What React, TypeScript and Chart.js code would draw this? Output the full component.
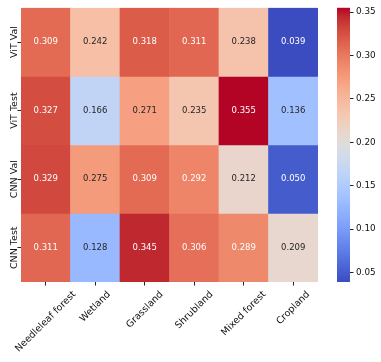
import React, { useEffect, useRef } from 'react';
import { Chart, registerables } from 'chart.js';

Chart.register(...registerables);

const columns = ['Needleleaf forest', 'Wetland', 'Grassland', 'Shrubland', 'Mixed forest', 'Cropland'];
const rows = ['ViT Val', 'ViT Test', 'CNN Val', 'CNN Test'];
const vitVal = [0.309, 0.242, 0.318, 0.311, 0.238, 0.039];
const vitTest = [0.327, 0.166, 0.271, 0.235, 0.355, 0.136];
const cnnVal = [0.329, 0.275, 0.309, 0.292, 0.212, 0.05];
const cnnTest = [0.311, 0.128, 0.345, 0.306, 0.289, 0.209];
const colorbarTicks = [0.05, 0.1, 0.15, 0.2, 0.25, 0.3, 0.35];

const series = [vitVal, vitTest, cnnVal, cnnTest];
const allValues = series.flat();
const vmin = Math.min(...allValues);
const vmax = Math.max(...allValues);

// coolwarm colormap control points (Moreland)
const COOLWARM: number[][] = [
  [59, 76, 192], [68, 90, 204], [77, 104, 215], [87, 117, 225], [98, 130, 234], [108, 142, 241],
  [119, 154, 247], [130, 165, 251], [141, 176, 254], [152, 185, 255], [163, 194, 255], [174, 201, 253],
  [184, 208, 249], [194, 213, 244], [204, 217, 238], [213, 219, 230], [221, 221, 221], [229, 216, 209],
  [236, 211, 197], [241, 204, 185], [245, 196, 173], [247, 187, 160], [247, 177, 148], [247, 166, 135],
  [244, 154, 123], [241, 141, 111], [236, 127, 99], [229, 112, 88], [222, 96, 77], [213, 80, 66],
  [203, 62, 56], [192, 40, 47], [180, 4, 38],
];

function cmapRGB(t: number): number[] {
  const c = Math.max(0, Math.min(1, t)) * (COOLWARM.length - 1);
  const i = Math.min(COOLWARM.length - 2, Math.floor(c));
  const f = c - i;
  const a = COOLWARM[i], b = COOLWARM[i + 1];
  return [0, 1, 2].map((k) => Math.round(a[k] + (b[k] - a[k]) * f));
}
const rgbStr = (c: number[]) => `rgb(${c[0]},${c[1]},${c[2]})`;
const norm = (v: number) => (v - vmin) / (vmax - vmin);

function luminance(c: number[]): number {
  const l = c.map((x) => {
    const v = x / 255;
    return v <= 0.03928 ? v / 12.92 : Math.pow((v + 0.055) / 1.055, 2.4);
  });
  return 0.2126 * l[0] + 0.7152 * l[1] + 0.0722 * l[2];
}

const FONT = "'DejaVu Sans', sans-serif";
const TICK_SIZE = 9.5;
const ANNOT_SIZE = 8.5;
const TEXT_COLOR = '#111';
const TICK_COLOR = '#222';

const heatmapPlugin = {
  id: 'heatmapExtras',
  afterDatasetsDraw(chart: any) {
    const ctx = chart.ctx;
    ctx.save();
    ctx.font = `${ANNOT_SIZE}px ${FONT}`;
    ctx.textAlign = 'center';
    ctx.textBaseline = 'middle';
    chart.data.datasets.forEach((ds: any, i: number) => {
      const meta = chart.getDatasetMeta(i);
      meta.data.forEach((el: any, j: number) => {
        const v = series[i][j];
        const col = cmapRGB(norm(v));
        ctx.fillStyle = luminance(col) > 0.408 ? 'rgb(38,38,38)' : '#ffffff';
        ctx.fillText(v.toFixed(3), el.x, (el.y + el.base) / 2);
      });
    });
    ctx.restore();
  },
  afterDraw(chart: any) {
    const ctx = chart.ctx;
    const xs = chart.scales.x;
    const ys = chart.scales.y;
    const cb = chart.scales.cb;
    const sp = chart.scales.spacer;
    ctx.save();
    ctx.font = `${TICK_SIZE}px ${FONT}`;
    ctx.fillStyle = TEXT_COLOR;
    // y labels, rotated
    rows.forEach((r, i) => {
      const py = ys.getPixelForValue(i + 0.5);
      ctx.save();
      ctx.translate(ys.right - 4.3, py);
      ctx.rotate(-Math.PI / 2);
      ctx.textAlign = 'center';
      ctx.textBaseline = 'alphabetic';
      ctx.fillText(r, 0, 0);
      ctx.restore();
    });
    // x labels, rotated 45 and centered on the tick
    const h = TICK_SIZE * 1.164;
    const top = xs.top + 7;
    columns.forEach((c, j) => {
      const px = xs.getPixelForValue(j);
      const w = ctx.measureText(c).width;
      const side = (w + h) * Math.SQRT1_2;
      ctx.save();
      ctx.translate(px, top + side / 2);
      ctx.rotate(-Math.PI / 4);
      ctx.textAlign = 'center';
      ctx.textBaseline = 'middle';
      ctx.fillText(c, 0, 0);
      ctx.restore();
    });
    // colorbar
    const yTop = cb.getPixelForValue(vmax);
    const yBot = cb.getPixelForValue(vmin);
    const x1 = sp.right;
    const x0 = x1 - 13;
    const grad = ctx.createLinearGradient(0, yBot, 0, yTop);
    const n = 64;
    for (let k = 0; k <= n; k++) {
      grad.addColorStop(k / n, rgbStr(cmapRGB(k / n)));
    }
    ctx.fillStyle = grad;
    ctx.fillRect(x0, yTop, x1 - x0, yBot - yTop);
    ctx.restore();
  },
};

export default function App() {
  const ref = useRef<HTMLCanvasElement>(null);
  useEffect(() => {
    if (!ref.current) return;
    const chart = new Chart(ref.current, {
      type: 'bar',
      data: {
        labels: columns,
        datasets: rows.map((r, i) => ({
          label: r,
          data: columns.map(() => 1),
          backgroundColor: series[i].map((v) => rgbStr(cmapRGB(norm(v)))),
          borderWidth: 0,
          barPercentage: 1,
          categoryPercentage: 1,
        })),
      },
      options: {
        responsive: false,
        devicePixelRatio: 1,
        animation: false,
        layout: { padding: { top: 6, left: 0, right: 0, bottom: 0 } },
        plugins: { legend: { display: false }, tooltip: { enabled: false } },
        scales: {
          x: {
            type: 'category',
            stacked: true,
            offset: true,
            border: { display: false },
            grid: { display: true, drawOnChartArea: false, drawTicks: true, tickLength: 3.5, offset: false, color: TICK_COLOR, lineWidth: 1 },
            ticks: { display: false },
            afterFit: (s: any) => { s.height = 80; },
          },
          y: {
            type: 'linear',
            stacked: true,
            reverse: true,
            min: 0,
            max: rows.length,
            border: { display: false },
            grid: { display: true, drawOnChartArea: false, drawTicks: true, tickLength: 3.5, color: TICK_COLOR, lineWidth: 1 },
            ticks: { display: false },
            afterBuildTicks: (s: any) => { s.ticks = rows.map((_, i) => ({ value: i + 0.5 })); },
            afterFit: (s: any) => { s.width = 21; },
          },
          spacer: {
            type: 'linear',
            position: 'right',
            weight: 0,
            display: true,
            border: { display: false },
            grid: { display: false },
            ticks: { display: false },
            afterFit: (s: any) => { s.width = 32; },
          },
          cb: {
            type: 'linear',
            position: 'right',
            weight: 1,
            min: vmin,
            max: vmax,
            border: { display: false },
            grid: { display: true, drawOnChartArea: false, drawTicks: true, tickLength: 3.5, color: TICK_COLOR, lineWidth: 1 },
            ticks: {
              font: { family: FONT, size: 8.8 },
              color: TEXT_COLOR,
              padding: 2.5,
              autoSkip: false,
              callback: (v: any) => Number(v).toFixed(2),
            },
            afterBuildTicks: (s: any) => { s.ticks = colorbarTicks.map((v) => ({ value: v })); },
            afterFit: (s: any) => { s.width = 31; },
          },
        } as any,
      },
      plugins: [heatmapPlugin],
    });
    return () => chart.destroy();
  }, []);
  return (
    <div style={{ position: 'absolute', left: 0, top: 0, width: 381, height: 362, background: '#fff' }}>
      <canvas ref={ref} width={381} height={362} style={{ display: 'block' }} />
    </div>
  );
}
